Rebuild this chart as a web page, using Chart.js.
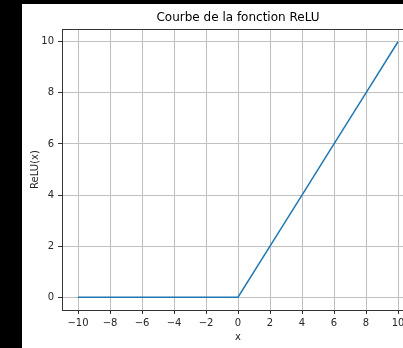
<!DOCTYPE html>
<html>
<head>
<meta charset="utf-8">
<script src="https://cdn.jsdelivr.net/npm/chart.js@4.4.0/dist/chart.umd.min.js"></script>
<style>
    html, body { margin: 0; padding: 0; background: #000; overflow: hidden; width: 403px; height: 348px; }
    #wrap { position: absolute; left: 22px; top: 4px; width: 420px; height: 344px; background: #fff; }
</style>
</head>
<body>
<div id="wrap"><canvas id="chart" width="420" height="344"></canvas></div>
<script>
// values
const xValues = [-10, -8, -6, -4, -2, 0, 2, 4, 6, 8, 10];
const reluValues = [0, 0, 0, 0, 0, 0, 2, 4, 6, 8, 10];
const xTicks = [-10, -8, -6, -4, -2, 0, 2, 4, 6, 8, 10];
const yTicks = [0, 2, 4, 6, 8, 10];
const chartTitle = 'Courbe de la fonction ReLU';

let fmt = function(v) {
    return v < 0 ? '\u2212' + Math.abs(v) : String(v);
};

// spines all round + title centred over the plot area (like matplotlib)
let boxPlugin = {
    id: 'box',
    afterDraw(chart) {
        let a = chart.chartArea, c = chart.ctx;
        c.save();
        c.strokeStyle = '#333';
        c.lineWidth = 1;
        c.strokeRect(Math.round(a.left) + 0.5, Math.round(a.top) + 0.5,
            Math.round(a.right - a.left), Math.round(a.bottom - a.top));
        c.fillStyle = '#000';
        c.font = '12px "DejaVu Sans", sans-serif';
        c.textAlign = 'center';
        c.textBaseline = 'middle';
        c.fillText(chartTitle, (a.left + a.right) / 2, 14);
        c.restore();
    }
};

Chart.defaults.font.family = '"DejaVu Sans", sans-serif';
Chart.defaults.color = '#262626';

new Chart(document.getElementById('chart').getContext('2d'), {
    type: 'line',
    data: {
        datasets: [{
            data: xValues.map((x, i) => ({ x: x, y: reluValues[i] })),
            borderColor: '#1f77b4',
            borderWidth: 1.5,
            pointRadius: 0,
            fill: false,
            tension: 0,
        }]
    },
    options: {
        responsive: false,
        animation: false,
        layout: { padding: { left: 7, right: 28, top: 25, bottom: 5 } },
        plugins: {
            legend: { display: false },
            tooltip: { enabled: false },
            title: { display: false },
        },
        scales: {
            x: {
                type: 'linear',
                min: -11,
                max: 11,
                afterBuildTicks: (s) => { s.ticks = xTicks.map(v => ({ value: v })); },
                afterFit: (s) => { s.height = 33; },
                ticks: { callback: fmt, font: { size: 10 }, padding: 3, maxRotation: 0 },
                grid: { color: '#c0c0c0', tickColor: '#333', tickLength: 4 },
                border: { color: '#333' },
                title: { display: true, text: 'x', font: { size: 10 }, padding: { top: 0, bottom: 0 } },
            },
            y: {
                type: 'linear',
                min: -0.5,
                max: 10.5,
                afterBuildTicks: (s) => { s.ticks = yTicks.map(v => ({ value: v })); },
                afterFit: (s) => { s.width = 33; },
                ticks: { callback: fmt, font: { size: 10 }, padding: 4 },
                grid: { color: '#c0c0c0', tickColor: '#333', tickLength: 4 },
                border: { color: '#333' },
                title: { display: true, text: 'ReLU(x)', font: { size: 10 }, padding: { top: 0, bottom: 0 } },
            }
        }
    },
    plugins: [boxPlugin]
});
</script>
</body>
</html>
